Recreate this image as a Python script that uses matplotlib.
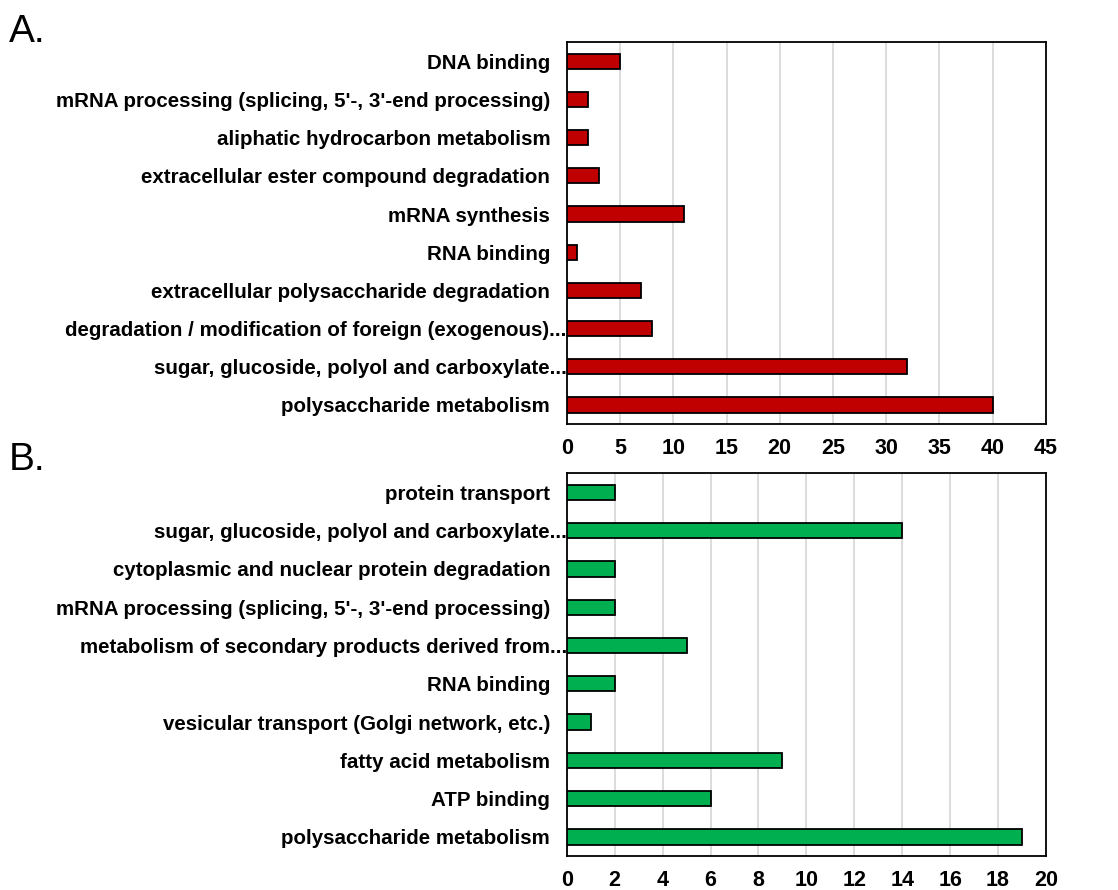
import matplotlib
matplotlib.use("Agg")
import matplotlib.pyplot as plt
import matplotlib.transforms as mtransforms

plt.rcParams['font.family'] = ['Liberation Sans', 'DejaVu Sans']

# Panel A categories, top to bottom
cats_a = [
    "DNA binding",
    "mRNA processing (splicing, 5'-, 3'-end processing)",
    "aliphatic hydrocarbon metabolism",
    "extracellular ester compound degradation",
    "mRNA synthesis",
    "RNA binding",
    "extracellular polysaccharide degradation",
    "degradation / modification of foreign (exogenous)...",
    "sugar, glucoside, polyol and carboxylate...",
    "polysaccharide metabolism",
]
vals_a = [5, 2, 2, 3, 11, 1, 7, 8, 32, 40]
ticks_a = [0, 5, 10, 15, 20, 25, 30, 35, 40, 45]

# Panel B categories, top to bottom
cats_b = [
    "protein transport",
    "sugar, glucoside, polyol and carboxylate...",
    "cytoplasmic and nuclear protein degradation",
    "mRNA processing (splicing, 5'-, 3'-end processing)",
    "metabolism of secondary products derived from...",
    "RNA binding",
    "vesicular transport (Golgi network, etc.)",
    "fatty acid metabolism",
    "ATP binding",
    "polysaccharide metabolism",
]
vals_b = [2, 14, 2, 2, 5, 2, 1, 9, 6, 19]
ticks_b = [0, 2, 4, 6, 8, 10, 12, 14, 16, 18, 20]


def draw_panel(fig, ax, cats, vals, ticks, color):
    ypos = list(range(len(cats)))
    ax.barh(ypos, vals, height=0.4, color=color, edgecolor='black', linewidth=1.3, zorder=3)
    ax.set_ylim(len(cats) - 0.5, -0.5)
    ax.set_xlim(ticks[0], ticks[-1])
    ax.set_yticks(ypos)
    ax.set_yticklabels(cats, fontsize=14.8, fontweight='bold')
    ax.set_xticks(ticks)
    ax.set_xticklabels([str(t) for t in ticks], fontsize=15.5, fontweight='bold')
    ax.tick_params(axis='y', length=0, pad=12)
    ax.tick_params(axis='x', length=0, pad=10)
    ax.grid(axis='x', color='#d9d9d9', linewidth=1.3, zorder=0)
    for s in ax.spines.values():
        s.set_linewidth(1.3)
        s.set_color('black')
    # truncated labels run right up to the axis
    shift = mtransforms.ScaledTranslation(12 / 72, 0, fig.dpi_scale_trans)
    for lbl in ax.get_yticklabels():
        if lbl.get_text().endswith('...'):
            lbl.set_transform(lbl.get_transform() + shift)


fig = plt.figure(figsize=(11.18, 8.9), dpi=100)
ax_a = fig.add_axes([0.507, 0.5236, 0.4285, 0.429])
ax_b = fig.add_axes([0.507, 0.0382, 0.4285, 0.430])

draw_panel(fig, ax_a, cats_a, vals_a, ticks_a, '#c00000')
draw_panel(fig, ax_b, cats_b, vals_b, ticks_b, '#00b050')

fig.text(0.008, 0.984, "A.", fontsize=28, va='top', ha='left')
fig.text(0.008, 0.503, "B.", fontsize=28, va='top', ha='left')

fig.savefig("out.png", dpi=100, facecolor='white')
